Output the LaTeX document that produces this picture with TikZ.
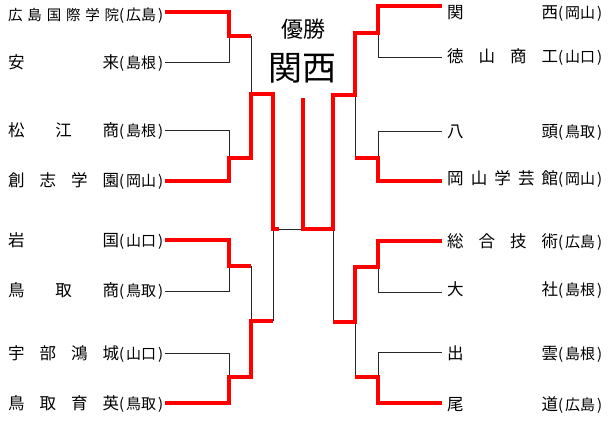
\documentclass[tikz,border=0pt]{standalone}
\usepackage{fontspec}
\setmainfont{Noto Sans CJK JP}
\newcommand\teamlabel[2]{\makebox[111pt][l]{#1}{\fontsize{15}{15}\selectfont\makebox[44pt][l]{(\hfill #2\hfill)}}}
\begin{document}
\begin{tikzpicture}[x=1pt,y=-1pt,
  win/.style={draw=red,line width=4pt},
  lose/.style={draw=black!85,line width=1pt},
  nm/.style={inner sep=0pt,anchor=base west,font=\fontsize{16.5}{16.5}\selectfont},
]
\useasboundingbox (0,0) rectangle (613,436);
% titles
\node[inner sep=0pt,anchor=base,font=\fontsize{22}{22}\selectfont] (yu) at (303,37.5) {優勝};
\node[inner sep=0pt,anchor=base,font=\fontsize{34}{34}\selectfont] (ch) at (302,81) {関西};
% left teams
\node[nm,font=\fontsize{14.5}{14.5}\selectfont] (a1) at (8,20.3) {\teamlabel{広\hfill 島\hfill 国\hfill 際\hfill 学\hfill 院}{広島}};
\node[nm] (a2) at (8,68) {\teamlabel{安\hfill 来}{島根}};
\node[nm] (a3) at (8,136) {\teamlabel{松\hfill 江\hfill 商}{島根}};
\node[nm] (a4) at (8,186) {\teamlabel{創\hfill 志\hfill 学\hfill 園}{岡山}};
\node[nm] (a5) at (8,246) {\teamlabel{岩\hfill 国}{山口}};
\node[nm] (a6) at (8,296) {\teamlabel{鳥\hfill 取\hfill 商}{鳥取}};
\node[nm] (a7) at (8,359) {\teamlabel{宇\hfill 部\hfill 鴻\hfill 城}{山口}};
\node[nm] (a8) at (8,409) {\teamlabel{鳥\hfill 取\hfill 育\hfill 英}{鳥取}};
% right teams
\node[nm] (b1) at (447,19) {\teamlabel{関\hfill 西}{岡山}};
\node[nm] (b2) at (447,63) {\teamlabel{徳\hfill 山\hfill 商\hfill 工}{山口}};
\node[nm] (b3) at (447,137) {\teamlabel{八\hfill 頭}{鳥取}};
\node[nm] (b4) at (447,184) {\teamlabel{岡\hfill 山\hfill 学\hfill 芸\hfill 館}{岡山}};
\node[nm] (b5) at (447,247) {\teamlabel{総\hfill 合\hfill 技\hfill 術}{広島}};
\node[nm] (b6) at (447,295) {\teamlabel{大\hfill 社}{島根}};
\node[nm] (b7) at (447,359) {\teamlabel{出\hfill 雲}{島根}};
\node[nm] (b8) at (447,410) {\teamlabel{尾\hfill 道}{広島}};
% line end coordinates
\coordinate (la1) at (165,12);  \coordinate (la2) at (165,63);
\coordinate (la3) at (165,130); \coordinate (la4) at (165,181);
\coordinate (la5) at (165,240); \coordinate (la6) at (165,291);
\coordinate (la7) at (165,353); \coordinate (la8) at (165,403);
\coordinate (lb1) at (442,6);   \coordinate (lb2) at (442,58);
\coordinate (lb3) at (442,131); \coordinate (lb4) at (442,181);
\coordinate (lb5) at (442,241); \coordinate (lb6) at (442,292);
\coordinate (lb7) at (442,352); \coordinate (lb8) at (442,403);
\coordinate (top) at (303,98);
% thin (losing) lines, left
\draw[lose] (la2) -- (229,63) -- (229,36);
\draw[lose] (la3) -- (229,130) -- (229,158);
\draw[lose] (la6) -- (229,291) -- (229,266);
\draw[lose] (la7) -- (229,353) -- (229,377);
\draw[lose] (251,36) -- (251,94);
\draw[lose] (251,266) -- (251,321);
\draw[lose] (273,321) -- (273,229);
\draw[lose] (279,229) -- (303,229);
% thin lines, right
\draw[lose] (lb2) -- (378,58) -- (378,33);
\draw[lose] (lb3) -- (378,131) -- (378,158);
\draw[lose] (lb6) -- (378,292) -- (378,267);
\draw[lose] (lb7) -- (378,352) -- (378,377);
\draw[lose] (355,95) -- (355,158);
\draw[lose] (355,322) -- (355,377);
\draw[lose] (333,229) -- (333,322);
% red (winning) lines, left
\draw[win] (la1) -- (229,12) -- (229,36) -- (251,36);
\draw[win] (la4) -- (229,181) -- (229,158) -- (251,158) -- (251,94) -- (273,94) -- (273,229) -- (279,229);
\draw[win] (la5) -- (229,240) -- (229,266) -- (251,266);
\draw[win] (la8) -- (229,403) -- (229,377) -- (251,377) -- (251,321) -- (273,321);
% red lines, right
\draw[win] (lb1) -- (378,6) -- (378,33) -- (355,33) -- (355,95) -- (333,95) -- (333,229) -- (303,229) -- (top);
\draw[win] (lb4) -- (378,181) -- (378,158) -- (355,158);
\draw[win] (lb5) -- (378,241) -- (378,267) -- (355,267) -- (355,322) -- (333,322);
\draw[win] (lb8) -- (378,403) -- (378,377) -- (355,377);
\end{tikzpicture}
\end{document}
